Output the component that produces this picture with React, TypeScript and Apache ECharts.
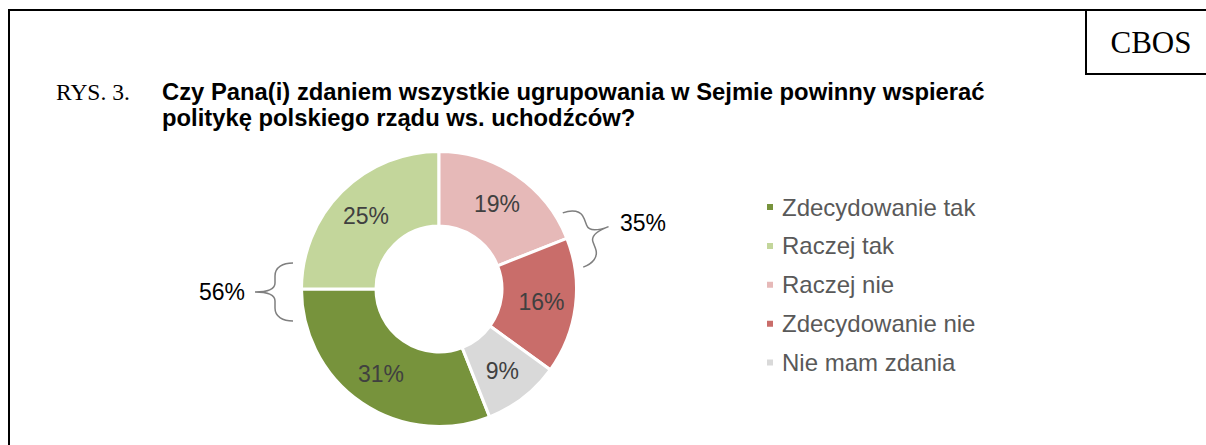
import React, { useEffect, useRef } from 'react';
import * as echarts from 'echarts';

const categories = ['Zdecydowanie tak', 'Raczej tak', 'Raczej nie', 'Zdecydowanie nie', 'Nie mam zdania'];
const values = [31, 25, 19, 16, 9];
const colors = ['#77933C', '#C3D69B', '#E6B9B8', '#C96D6A', '#D9D9D9'];
const groupYes = [0, 1];
const groupNo = [2, 3];

const titleLabel = 'RYS. 3.';
const titleLine1 = 'Czy Pana(i) zdaniem wszystkie ugrupowania w Sejmie powinny wspierać';
const titleLine2 = 'politykę polskiego rządu ws. uchodźców?';
const sourceLabel = 'CBOS';

const BRACE_D =
  'M0,-29 C10,-29 18,-25 18,-16 L18,-9 C18,-3 24,0 38,0 C24,0 18,3 18,9 L18,16 C18,25 10,29 0,29';

let registered = false;
function ensureShape() {
  if (registered) return;
  echarts.graphic.registerShape('braceShape', echarts.graphic.extendPath(BRACE_D, {}) as any);
  registered = true;
}

export default function App() {
  const ref = useRef<HTMLDivElement>(null);
  useEffect(() => {
    if (!ref.current) return;
    ensureShape();
    const chart = echarts.init(ref.current, null, { renderer: 'svg' });
    const sum = (idx: number[]) => idx.reduce((s, i) => s + values[i], 0);
    const cx = 439;
    const cy = 289;
    const braceStyle = { stroke: '#7F7F7F', lineWidth: 1.5, fill: 'none' };
    const sans = '"Liberation Sans", Arial, sans-serif';
    const serif = '"Liberation Serif", "Times New Roman", serif';
    chart.setOption({
      animation: false,
      backgroundColor: '#ffffff',
      legend: {
        orient: 'vertical',
        left: 765,
        top: 195,
        padding: 0,
        itemWidth: 8,
        itemHeight: 8,
        itemGap: 14.9,
        icon: 'rect',
        data: categories,
        textStyle: {
          fontFamily: sans,
          fontSize: 24,
          color: '#595959',
          padding: [0, 0, 0, 3],
        },
      },
      series: [
        {
          type: 'pie',
          center: [cx, cy],
          radius: [63, 137.5],
          startAngle: 90 - (360 * sum([2, 3, 4])) / 100,
          clockwise: true,
          avoidLabelOverlap: false,
          itemStyle: { borderColor: '#ffffff', borderWidth: 3 },
          label: {
            show: true,
            position: 'inside',
            formatter: '{c}%',
            fontFamily: sans,
            fontSize: 23,
            color: '#404040',
          },
          labelLine: { show: false },
          emphasis: { disabled: true },
          data: categories.map((name, i) => ({
            name,
            value: values[i],
            itemStyle: { color: colors[i] },
          })),
        },
      ],
      color: colors,
      graphic: [
        { type: 'line', shape: { x1: 8, y1: 10, x2: 1206, y2: 10 }, style: { stroke: '#000', lineWidth: 2 } },
        { type: 'line', shape: { x1: 9, y1: 9, x2: 9, y2: 445 }, style: { stroke: '#000', lineWidth: 2 } },
        { type: 'line', shape: { x1: 1086, y1: 10, x2: 1086, y2: 74 }, style: { stroke: '#000', lineWidth: 2 } },
        { type: 'line', shape: { x1: 1085, y1: 74, x2: 1206, y2: 74 }, style: { stroke: '#000', lineWidth: 2 } },
        {
          type: 'text',
          x: 1151,
          y: 42,
          style: {
            text: sourceLabel,
            font: '31px ' + serif,
            fill: '#000',
            align: 'center',
            verticalAlign: 'middle',
          },
        },
        {
          type: 'text',
          x: 56,
          y: 91.5,
          style: {
            text: titleLabel,
            font: '23.5px ' + serif,
            fill: '#000',
            verticalAlign: 'middle',
          },
        },
        {
          type: 'text',
          x: 162,
          y: 91,
          style: {
            text: titleLine1,
            font: 'bold 23.8px ' + sans,
            fill: '#000',
            verticalAlign: 'middle',
          },
        },
        {
          type: 'text',
          x: 162,
          y: 117.8,
          style: {
            text: titleLine2,
            font: 'bold 23.8px ' + sans,
            fill: '#000',
            verticalAlign: 'middle',
          },
        },
        {
          type: 'braceShape',
          x: 293,
          y: 292,
          scaleX: -1,
          style: braceStyle,
        },
        {
          type: 'braceShape',
          x: 573,
          y: 240,
          rotation: (20.7 * Math.PI) / 180,
          style: braceStyle,
        },
        {
          type: 'text',
          x: 245,
          y: 292,
          style: {
            text: sum(groupYes) + '%',
            font: '23px ' + sans,
            fill: '#000',
            align: 'right',
            verticalAlign: 'middle',
          },
        },
        {
          type: 'text',
          x: 620,
          y: 223,
          style: {
            text: sum(groupNo) + '%',
            font: '23px ' + sans,
            fill: '#000',
            align: 'left',
            verticalAlign: 'middle',
          },
        },
      ],
    });
    return () => chart.dispose();
  }, []);
  return (
    <div
      ref={ref}
      style={{ position: 'absolute', left: 0, top: 0, width: 1206, height: 445 }}
    />
  );
}
